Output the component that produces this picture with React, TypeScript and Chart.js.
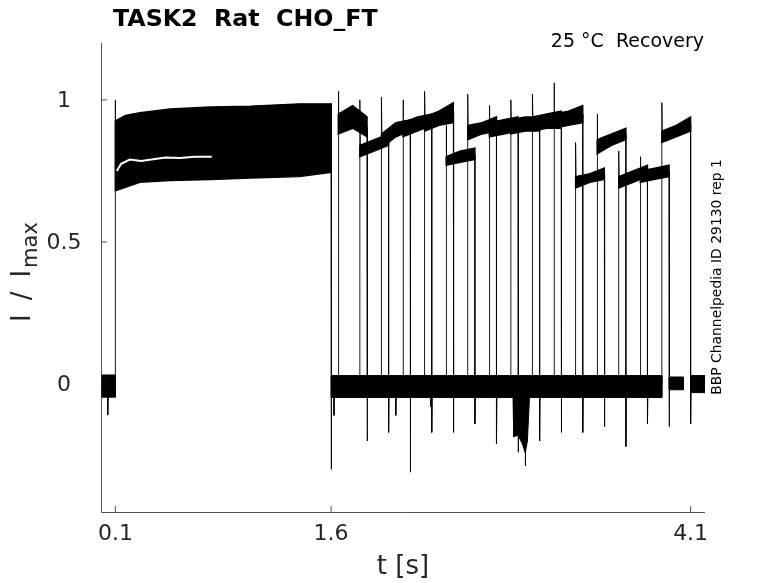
import { useEffect, useRef } from "react";
import Chart from "chart.js/auto";

const titleText = "TASK2  Rat  CHO_FT";
const condText = "25 °C  Recovery";
const sideText = "BBP Channelpedia ID 29130 rep 1";

const xTicks = [0.1, 1.6, 4.1];
const yTicks = [0, 0.5, 1];
const xRange = [0, 4.2];
const yRange = [-0.45, 1.2];

// conditioning step 0.1 -> 1.6 s, envelope of the overlaid sweeps
const preT = [0.1, 0.17, 0.27, 0.48, 0.76, 1.04, 1.38, 1.6];
const preHi = [0.926, 0.945, 0.955, 0.968, 0.975, 0.978, 0.986, 0.986];
const preLo = [0.68, 0.692, 0.71, 0.716, 0.72, 0.725, 0.73, 0.745];
// white gap between the lowest sweep and the rest
const gapT = [0.11, 0.14, 0.2, 0.28, 0.35, 0.45, 0.55, 0.65, 0.77];
const gapY = [0.75, 0.775, 0.79, 0.785, 0.79, 0.797, 0.795, 0.8, 0.8];
const stepOnPeak = 1.0;
const stepOffTail = -0.3;

// baseline pieces (holding level)
const baseFrom = [0, 1.6, 3.95, 4.1];
const baseTo = [0.1, 3.9, 4.05, 4.2];
const baseHi = [0.032, 0.03, 0.025, 0.03];
const baseLo = [-0.046, -0.047, -0.02, -0.03];

// lone downward spikes on the baseline
const spikeT = [0.047, 1.62, 2.05, 2.29, 2.95];
const spikeY = [-0.109, -0.11, -0.11, -0.08, -0.288];

// noisy dip around 2.9 s
const dipT = [2.865, 2.87, 2.9, 2.93, 2.95, 2.965, 2.98];
const dipY = [-0.04, -0.185, -0.18, -0.21, -0.242, -0.2, -0.04];

// test pulses
const pulseStart = [1.65, 1.8, 1.95, 2.1, 2.25, 2.4, 2.55, 2.7, 2.85, 3.0, 3.15, 3.3, 3.45, 3.6, 3.75, 3.9];
const pulseEnd = [1.85, 2.0, 2.15, 2.3, 2.45, 2.6, 2.75, 2.9, 3.05, 3.2, 3.35, 3.5, 3.65, 3.8, 3.95, 4.1];
const pulsePeak = [1.03, 1.0, 1.01, 1.0, 1.03, 0.91, 1.02, 0.98, 1.0, 1.02, 1.06, 0.85, 0.95, 0.82, 0.8, 0.99];
const pulseTail = [-0.2, -0.17, -0.31, -0.17, -0.17, -0.14, -0.21, -0.24, -0.2, -0.17, -0.17, -0.15, -0.22, -0.14, -0.15, -0.14];
// band low / high at start, middle, end of each pulse
const pulseLo = [
  [0.88, 0.9, 0.87], [0.8, 0.82, 0.84], [0.83, 0.87, 0.89], [0.87, 0.89, 0.91],
  [0.89, 0.91, 0.92], [0.77, 0.78, 0.79], [0.86, 0.88, 0.89], [0.87, 0.88, 0.89],
  [0.88, 0.89, 0.89], [0.89, 0.9, 0.9], [0.9, 0.91, 0.92], [0.69, 0.71, 0.72],
  [0.81, 0.84, 0.86], [0.69, 0.71, 0.73], [0.71, 0.72, 0.73], [0.85, 0.87, 0.89],
];
const pulseHi = [
  [0.95, 0.98, 0.94], [0.84, 0.86, 0.88], [0.88, 0.92, 0.93], [0.92, 0.94, 0.95],
  [0.94, 0.96, 0.99], [0.8, 0.82, 0.83], [0.91, 0.92, 0.94], [0.92, 0.93, 0.94],
  [0.93, 0.94, 0.94], [0.94, 0.95, 0.96], [0.95, 0.96, 0.98], [0.73, 0.74, 0.76],
  [0.86, 0.88, 0.9], [0.73, 0.75, 0.77], [0.75, 0.76, 0.77], [0.89, 0.91, 0.94],
];

const FONT = "'DejaVu Sans', 'Liberation Sans', sans-serif";
const INK = "#000000";
const AXIS = "#262626";

type P = { x: number; y: number };

function shape(pts: P[], width = 1.4) {
  return {
    data: [...pts, pts[0]],
    borderColor: INK,
    backgroundColor: INK,
    borderWidth: width,
    fill: "shape" as const,
    pointRadius: 0,
    tension: 0,
    order: 2,
  };
}

function trace(pts: P[], color = INK, width = 0.9, order = 1) {
  return {
    data: pts,
    borderColor: color,
    backgroundColor: color,
    borderWidth: width,
    fill: false,
    pointRadius: 0,
    tension: 0,
    order,
  };
}

function buildDatasets() {
  const sets: any[] = [];

  // baseline bands
  baseFrom.forEach((t0, i) => {
    const t1 = baseTo[i];
    sets.push(shape([
      { x: t0, y: baseHi[i] }, { x: t1, y: baseHi[i] },
      { x: t1, y: baseLo[i] }, { x: t0, y: baseLo[i] },
    ], 1));
  });

  // conditioning step
  const preBand: P[] = [
    ...preT.map((t, i) => ({ x: t, y: preHi[i] })),
    ...preT.map((t, i) => ({ x: t, y: preLo[i] })).reverse(),
  ];
  sets.push(shape(preBand));
  sets.push(trace(gapT.map((t, i) => ({ x: t, y: gapY[i] })), "#ffffff", 2, 0));
  sets.push(trace([{ x: preT[0], y: 0 }, { x: preT[0], y: stepOnPeak }, { x: preT[0], y: preLo[0] }]));
  const tOff = preT[preT.length - 1];
  sets.push(trace([{ x: tOff, y: preHi[preHi.length - 1] }, { x: tOff, y: stepOffTail }, { x: tOff + 0.004, y: 0 }]));

  // spikes and dip
  spikeT.forEach((t, i) => {
    sets.push(trace([{ x: t, y: 0 }, { x: t, y: spikeY[i] }, { x: t + 0.003, y: 0 }]));
  });
  sets.push(shape(dipT.map((t, i) => ({ x: t, y: dipY[i] })), 1));

  // test pulses
  pulseStart.forEach((s, i) => {
    const e = pulseEnd[i];
    const m = (s + e) / 2;
    const lo = pulseLo[i];
    const hi = pulseHi[i];
    sets.push(shape([
      { x: s, y: hi[0] }, { x: m, y: hi[1] }, { x: e, y: hi[2] },
      { x: e, y: lo[2] }, { x: m, y: lo[1] }, { x: s, y: lo[0] },
    ]));
    sets.push(trace([
      { x: s, y: 0 }, { x: s, y: pulsePeak[i] }, { x: s + 0.004, y: (lo[0] + hi[0]) / 2 },
    ]));
    sets.push(trace([
      { x: e, y: (lo[2] + hi[2]) / 2 }, { x: e, y: pulseTail[i] }, { x: e + 0.004, y: 0 },
    ]));
  });

  return sets;
}

const decor = {
  id: "decor",
  afterDraw(chart: any) {
    const { ctx, chartArea: a, scales } = chart;
    const xs = scales.x;
    const ys = scales.y;
    ctx.save();

    // axes with inward ticks
    ctx.strokeStyle = AXIS;
    ctx.lineWidth = 0.8;
    ctx.beginPath();
    ctx.moveTo(a.left + 0.5, a.top);
    ctx.lineTo(a.left + 0.5, a.bottom + 0.5);
    ctx.lineTo(a.right, a.bottom + 0.5);
    yTicks.forEach((v) => {
      const p = ys.getPixelForValue(v);
      ctx.moveTo(a.left, p);
      ctx.lineTo(a.left + 6, p);
    });
    xTicks.forEach((v) => {
      const p = xs.getPixelForValue(v);
      ctx.moveTo(p, a.bottom);
      ctx.lineTo(p, a.bottom - 6);
    });
    ctx.stroke();

    // tick labels
    ctx.fillStyle = AXIS;
    ctx.font = `22px ${FONT}`;
    ctx.textAlign = "center";
    ctx.textBaseline = "middle";
    yTicks.forEach((v) => ctx.fillText(String(v), 64, ys.getPixelForValue(v) + 1));
    xTicks.forEach((v) => ctx.fillText(String(v), xs.getPixelForValue(v), a.bottom + 22));

    // axis titles
    ctx.font = `26px ${FONT}`;
    ctx.fillText("t [s]", (a.left + a.right) / 2, 567);

    ctx.save();
    ctx.translate(30, 322);
    ctx.rotate(-Math.PI / 2);
    ctx.textAlign = "left";
    ctx.textBaseline = "alphabetic";
    ctx.font = `26px ${FONT}`;
    let pos = 0;
    ["I", "/", "I"].forEach((g, k) => {
      ctx.fillText(g, pos, 0);
      pos += ctx.measureText(g).width + (k < 2 ? 14 : 2);
    });
    ctx.font = `21px ${FONT}`;
    ctx.fillText("max", pos, 7);
    ctx.restore();

    // titles
    ctx.fillStyle = "#000";
    ctx.textBaseline = "alphabetic";
    ctx.textAlign = "left";
    ctx.font = `bold 23.7px ${FONT}`;
    ctx.fillText(titleText, 113, 26);

    ctx.textAlign = "right";
    ctx.font = `19px ${FONT}`;
    ctx.fillText(condText, 704, 47);

    ctx.save();
    ctx.translate(721, 277);
    ctx.rotate(-Math.PI / 2);
    ctx.textAlign = "center";
    ctx.font = `13.9px ${FONT}`;
    ctx.fillText(sideText, 0, 0);
    ctx.restore();

    ctx.restore();
  },
};

export default function App() {
  const canvasRef = useRef<HTMLCanvasElement>(null);

  useEffect(() => {
    if (!canvasRef.current) return;
    const chart = new Chart(canvasRef.current, {
      type: "line",
      data: { datasets: buildDatasets() },
      options: {
        animation: false,
        responsive: true,
        maintainAspectRatio: false,
        events: [],
        layout: { padding: { left: 101, right: 73, top: 43, bottom: 71 } },
        scales: {
          x: { type: "linear", min: xRange[0], max: xRange[1], display: false },
          y: { type: "linear", min: yRange[0], max: yRange[1], display: false },
        },
        plugins: { legend: { display: false }, tooltip: { enabled: false } },
      },
      plugins: [decor],
    } as any);
    return () => chart.destroy();
  }, []);

  return (
    <div style={{ position: "fixed", left: 0, top: 0, width: 778, height: 583, background: "#fff" }}>
      <canvas ref={canvasRef} />
    </div>
  );
}
